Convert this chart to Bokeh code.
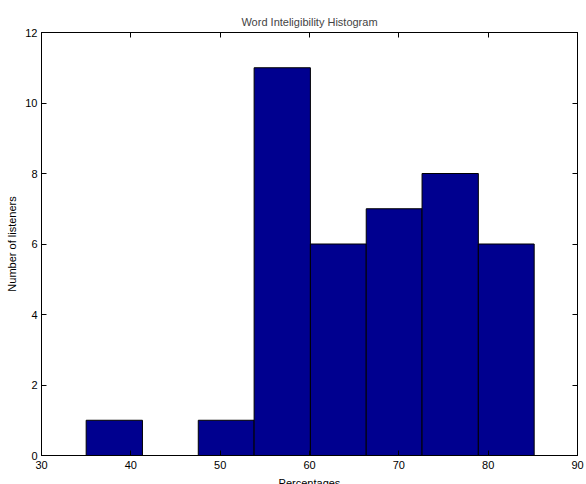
from bokeh.plotting import figure
from bokeh.models import Range1d, FixedTicker, LinearAxis, ColumnDataSource
from bokeh.embed import file_html
from bokeh.resources import INLINE

title_text = "Word Inteligibility Histogram"
x_label = "Percentages"
y_label = "Number of listeners"
bin_edges = [35.0, 41.3, 47.55, 53.8, 60.1, 66.35, 72.6, 78.9, 85.15]
counts = [1, 0, 1, 11, 6, 7, 8, 6]
x_ticks = [30, 40, 50, 60, 70, 80, 90]
y_ticks = [0, 2, 4, 6, 8, 10, 12]

FONT = "Liberation Sans"

src = ColumnDataSource(dict(left=bin_edges[:-1], right=bin_edges[1:],
                            top=counts, bottom=[0] * len(counts)))

p = figure(width=586, height=484, output_backend="svg", toolbar_location=None,
           x_range=Range1d(30, 90), y_range=Range1d(0, 12),
           x_axis_label=x_label, y_axis_label=y_label,
           min_border_left=41, min_border_right=9, min_border_top=32, min_border_bottom=29)
p.frame_width = 536
p.frame_height = 423

p.title.text = title_text
p.title.align = "center"
p.title.text_font = FONT
p.title.text_font_size = "11px"
p.title.text_font_style = "normal"
p.title.offset = 0
p.title.standoff = 10

p.quad(left="left", right="right", top="top", bottom="bottom", source=src,
       fill_color="#00008F", line_color="black", line_width=1)

p.grid.visible = False
p.outline_line_color = "black"
p.outline_line_width = 1
p.background_fill_color = "white"
p.border_fill_color = "white"

for ax in p.xaxis:
    ax.ticker = FixedTicker(ticks=x_ticks)
for ax in p.yaxis:
    ax.ticker = FixedTicker(ticks=y_ticks)

top_ax = LinearAxis(ticker=FixedTicker(ticks=x_ticks),
                    major_label_overrides={t: "" for t in x_ticks})
right_ax = LinearAxis(ticker=FixedTicker(ticks=y_ticks),
                      major_label_overrides={t: "" for t in y_ticks})
for ax in (top_ax, right_ax):
    ax.major_label_standoff = 0
p.add_layout(top_ax, "above")
p.add_layout(right_ax, "right")

for ax in p.axis:
    ax.major_tick_in = 5
    ax.major_tick_out = 0
    ax.minor_tick_line_color = None
    ax.axis_line_color = "black"
    ax.major_tick_line_color = "black"
    ax.major_label_text_font = FONT
    ax.major_label_text_font_size = "11px"
    ax.major_label_text_color = "black"
    ax.axis_label_text_font = FONT
    ax.axis_label_text_font_size = "11px"
    ax.axis_label_text_font_style = "normal"
    ax.axis_label_text_color = "black"

p.xaxis[0].major_label_standoff = 1
p.xaxis[0].axis_label_standoff = 0
p.yaxis[0].major_label_standoff = 4
p.yaxis[0].axis_label_standoff = 4

open("out.html", "w").write(file_html(p, INLINE))
